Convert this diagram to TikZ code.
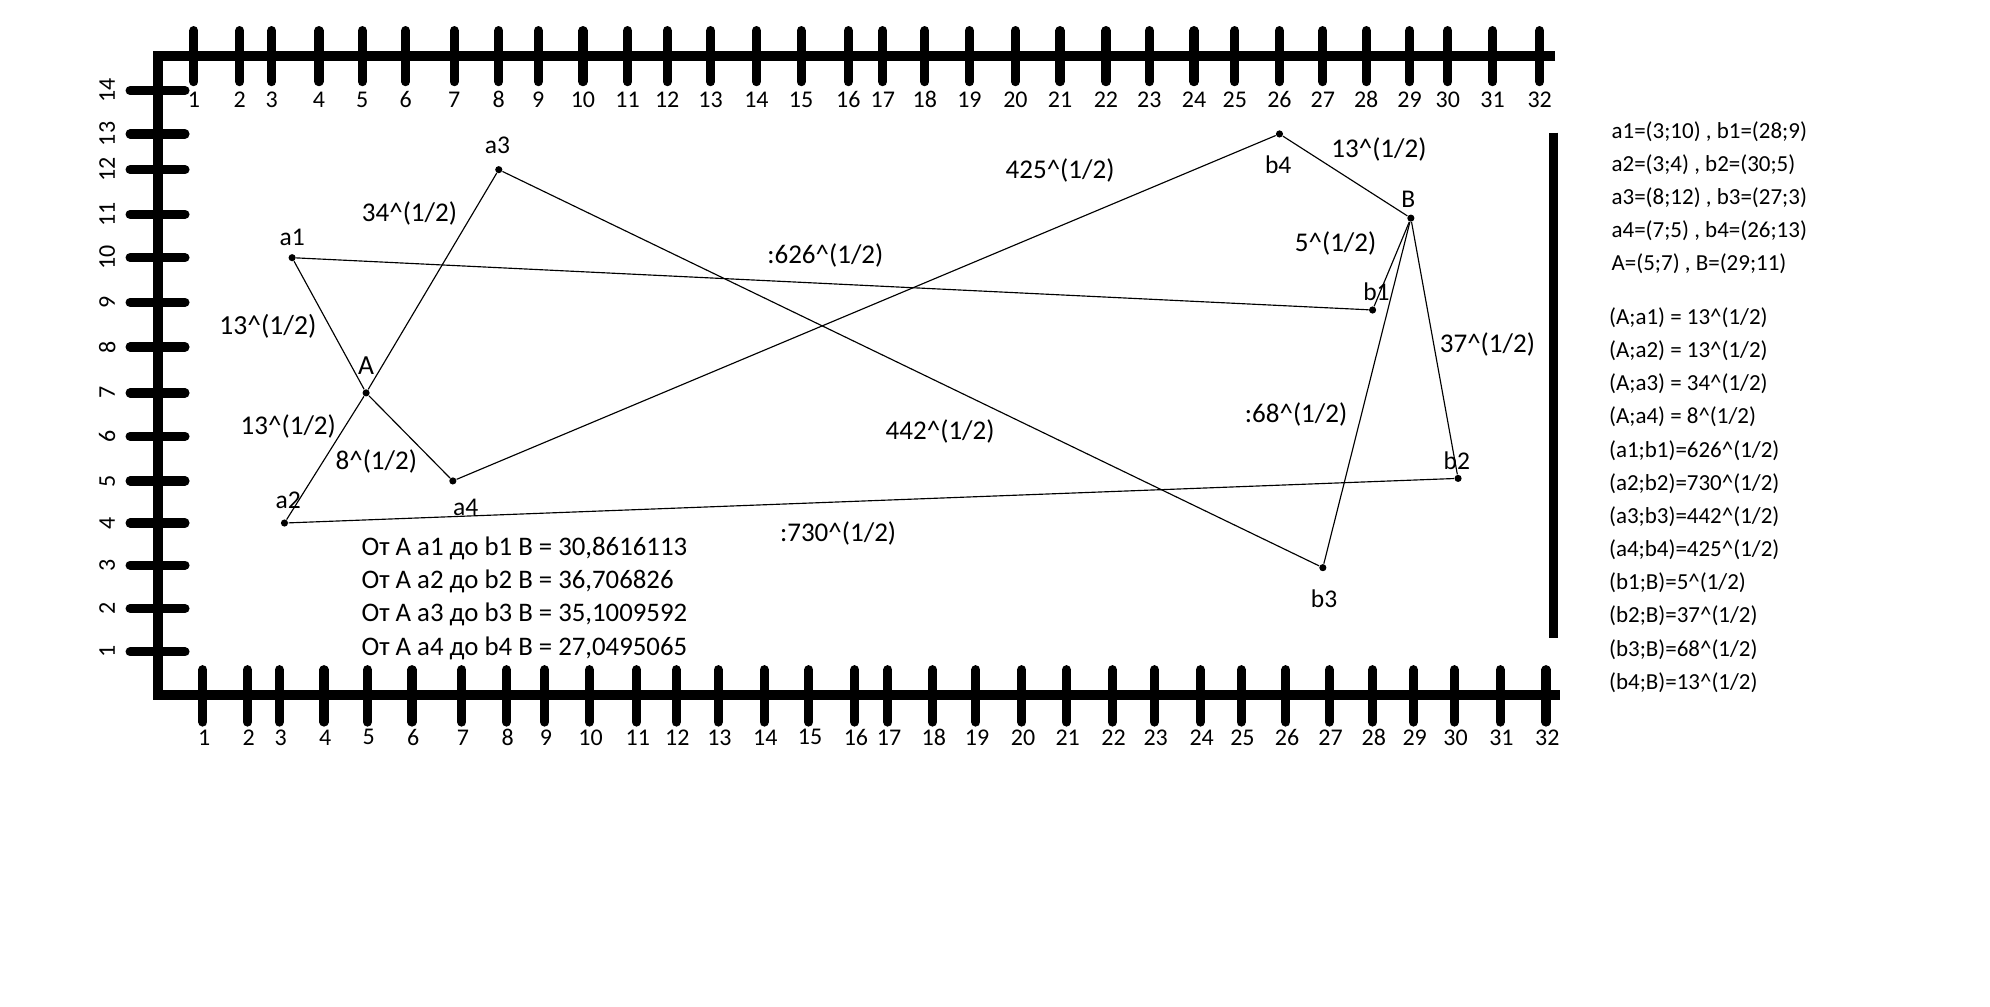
\documentclass[tikz,border=0pt]{standalone}
\usepackage{fontspec}
\setmainfont{Carlito}
\begin{document}
\begin{tikzpicture}[x=0.5pt,y=-0.5pt,
  axis/.style={line width=4pt,line join=miter},
  tk/.style={line width=3.6pt,line cap=round},
  edge/.style={line width=0.45pt},
  dot/.style={circle,fill,inner sep=0pt,minimum size=2.8pt},
  lbl/.style={font=\fontsize{9.4}{11}\selectfont,inner sep=0pt},
  plbl/.style={font=\fontsize{10}{12}\selectfont,inner sep=0pt},
  elbl/.style={font=\fontsize{10.6}{12}\selectfont,inner sep=0pt},
  big/.style={font=\fontsize{10.8}{12}\selectfont,inner sep=0pt},
  res/.style={font=\fontsize{10.5}{12}\selectfont,inner sep=0pt,anchor=west},
  txt/.style={font=\fontsize{9}{11}\selectfont,inner sep=0pt,anchor=west}]
\useasboundingbox (0,0) rectangle (1560,789);
% axes
\draw[axis] (1219,44) -- (124,44) -- (124,545) -- (1223,545);
\draw[line width=3.5pt] (1218,104) -- (1218,500);
% top ticks
\foreach \n/\x in {1/152,2/188,3/213,4/250,5/284,6/318,7/356,8/391,9/422,10/457,11/492,12/523,13/557,14/593,15/628,16/665,17/692,18/725,19/760,20/796,21/831,22/867,23/901,24/936,25/968,26/1003,27/1037,28/1071,29/1105,30/1135,31/1170,32/1207}{
  \draw[tk] (\x,24) -- (\x,64);
  \node[lbl] (t\n) at (\x,78) {\n};
}
% bottom ticks
\foreach \n/\x in {1/159,2/194,3/219,4/254,5/288,6/323,7/362,8/397,9/427,10/462,11/499,12/530,13/563,14/599,15/634,16/670,17/696,18/731,19/765,20/801,21/836,22/872,23/905,24/941,25/973,26/1008,27/1042,28/1076,29/1108,30/1140,31/1176,32/1212}{
  \draw[tk] (\x,525) -- (\x,566);
  \node[lbl] (u\n) at (\x+1,578) {\n};
}
% left ticks
\foreach \n/\y in {14/71,13/105,12/133,11/168,10/202,9/237,8/272,7/308,6/342,5/377,4/410,3/443,2/477,1/511}{
  \draw[tk] (102,\y) -- (145,\y);
  \node[lbl,rotate=90] (v\n) at (84,\y) {\n};
}
% points
\node[dot] (a1) at (229,202) {};
\node[dot] (a3) at (391,133) {};
\node[dot] (A)  at (287,308) {};
\node[dot] (a2) at (223,410) {};
\node[dot] (a4) at (355,377) {};
\node[dot] (b4) at (1003,105) {};
\node[dot] (B)  at (1106,171) {};
\node[dot] (b1) at (1076,243) {};
\node[dot] (b2) at (1143,375) {};
\node[dot] (b3) at (1037,445) {};
% edges
\draw[edge] (a1) -- (A);
\draw[edge] (A) -- (a2);
\draw[edge] (A) -- (a3);
\draw[edge] (A) -- (a4);
\draw[edge] (a1) -- (b1);
\draw[edge] (a2) -- (b2);
\draw[edge] (a3) -- (b3);
\draw[edge] (a4) -- (b4);
\draw[edge] (b1) -- (B);
\draw[edge] (b2) -- (B);
\draw[edge] (b3) -- (B);
\draw[edge] (b4) -- (B);
% point labels
\node[plbl] (la1) at (229,186) {a1};
\node[plbl] (la3) at (390,114) {a3};
\node[big] (lA)  at (287,287) {A};
\node[plbl] (la2) at (226,392) {a2};
\node[plbl] (la4) at (365,398) {a4};
\node[plbl] (lb4) at (1002,129) {b4};
\node[plbl] (lB)  at (1104,156) {B};
\node[plbl] (lb1) at (1079,229) {b1};
\node[plbl] (lb2) at (1142,361) {b2};
\node[plbl] (lb3) at (1038,469) {b3};
% edge labels
\node[elbl] (e1) at (321,167) {34\^{}(1/2)};
\node[big] (e2) at (210,256) {13\^{}(1/2)};
\node[elbl] (e3) at (226,334) {13\^{}(1/2)};
\node[elbl] (e4) at (295,362) {8\^{}(1/2)};
\node[elbl] (e5) at (647,200) {:626\^{}(1/2)};
\node[elbl] (e6) at (831,134) {425\^{}(1/2)};
\node[elbl] (e7) at (737,338) {442\^{}(1/2)};
\node[elbl] (e8) at (657,418) {:730\^{}(1/2)};
\node[elbl] (e9) at (1081,117) {13\^{}(1/2)};
\node[elbl] (e10) at (1047,191) {5\^{}(1/2)};
\node[elbl] (e11) at (1166,270) {37\^{}(1/2)};
\node[elbl] (e12) at (1016,325) {:68\^{}(1/2)};
% results
\node[res] (r1) at (283,430) {От A a1 до b1 B = 30,8616113};
\node[res] (r2) at (283,456) {От A a2 до b2 B = 36,706826};
\node[res] (r3) at (283,482) {От A a3 до b3 B = 35,1009592};
\node[res] (r4) at (283,508) {От A a4 до b4 B = 27,0495065};
% right list
\node[txt] (c1) at (1263,103) {a1=(3;10) , b1=(28;9)};
\node[txt] (c2) at (1263,129) {a2=(3;4) , b2=(30;5)};
\node[txt] (c3) at (1263,155) {a3=(8;12) , b3=(27;3)};
\node[txt] (c4) at (1263,181) {a4=(7;5) , b4=(26;13)};
\node[txt] (c5) at (1263,207) {A=(5;7) , B=(29;11)};
\node[txt] (d1) at (1261,249) {(A;a1) = 13\^{}(1/2)};
\node[txt] (d2) at (1261,275) {(A;a2) = 13\^{}(1/2)};
\node[txt] (d3) at (1261,301) {(A;a3) = 34\^{}(1/2)};
\node[txt] (d4) at (1261,327) {(A;a4) = 8\^{}(1/2)};
\node[txt] (d5) at (1261,353) {(a1;b1)=626\^{}(1/2)};
\node[txt] (d6) at (1261,379) {(a2;b2)=730\^{}(1/2)};
\node[txt] (d7) at (1261,405) {(a3;b3)=442\^{}(1/2)};
\node[txt] (d8) at (1261,431) {(a4;b4)=425\^{}(1/2)};
\node[txt] (d9) at (1261,457) {(b1;B)=5\^{}(1/2)};
\node[txt] (d10) at (1261,483) {(b2;B)=37\^{}(1/2)};
\node[txt] (d11) at (1261,509) {(b3;B)=68\^{}(1/2)};
\node[txt] (d12) at (1261,535) {(b4;B)=13\^{}(1/2)};
\end{tikzpicture}
\end{document}
